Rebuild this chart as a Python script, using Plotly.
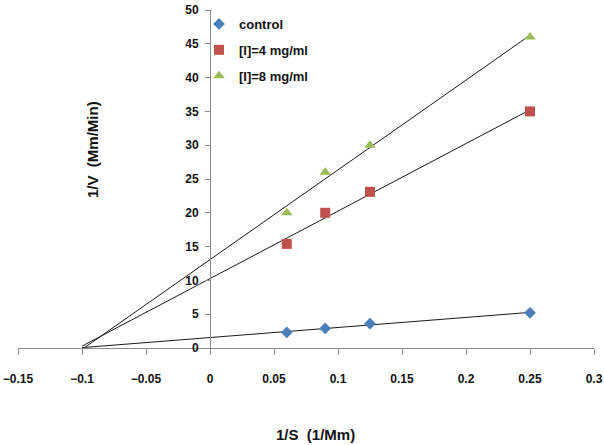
import numpy as np
import plotly.graph_objects as go

# Data
inv_s = [0.06, 0.09, 0.125, 0.25]
series_names = ["control", "[I]=4 mg/ml", "[I]=8 mg/ml"]
control = [2.3, 2.9, 3.6, 5.2]
inhib4 = [15.4, 20.0, 23.1, 35.0]
inhib8 = [20.0, 26.0, 30.0, 46.0]
x_ticks = [-0.15, -0.1, -0.05, 0, 0.05, 0.1, 0.15, 0.2, 0.25, 0.3]
y_ticks = [0, 5, 10, 15, 20, 25, 30, 35, 40, 45, 50]
trend_x = [-0.1, 0.25]

colors = ["#4A7EBB", "#C0504D", "#9BBB59"]
symbols = ["diamond", "square", "triangle-up"]
sizes = [9, 10, 10]

fig = go.Figure()
all_series = [control, inhib4, inhib8]
# trendlines
for ys in all_series:
    m, b = np.polyfit(inv_s, ys, 1)
    tx = np.array(trend_x)
    fig.add_trace(go.Scatter(x=tx, y=m * tx + b, mode="lines",
                             line=dict(color="#1a1a1a", width=1),
                             showlegend=False, hoverinfo="skip"))
for i, ys in enumerate(all_series):
    fig.add_trace(go.Scatter(x=inv_s, y=ys, mode="markers", name=series_names[i],
                             legendgroup=f"g{i}",
                             marker=dict(color=colors[i], symbol=symbols[i], size=sizes[i])))

font_family = "Liberation Sans, Arial, sans-serif"
L, R, T, B = 18, 10, 10, 97
PW, PH = 604 - L - R, 445 - T - B
fig.update_layout(
    width=604, height=445,
    margin=dict(l=L, r=R, t=T, b=B, autoexpand=False),
    paper_bgcolor="white", plot_bgcolor="white",
    font=dict(family=font_family, size=12, color="#111"),
    showlegend=True,
    legend=dict(x=(199 - L) / PW, y=1.0 + 1 / PH, xanchor="left", yanchor="top",
                bgcolor="rgba(0,0,0,0)", tracegroupgap=6,
                font=dict(size=13, family=font_family, color="#111", weight="bold"),
                itemwidth=30),
    xaxis=dict(range=[-0.15, 0.3], tickvals=x_ticks, showgrid=False, zeroline=False,
               automargin=False,
               showline=True, linecolor="#8c8c8c", linewidth=1,
               ticks="outside", ticklen=6, tickcolor="#8c8c8c",
               ticklabelstandoff=14,
               tickfont=dict(size=12, family=font_family, color="#111", weight="bold")),
    yaxis=dict(range=[0, 50], tickvals=y_ticks, showgrid=False, zeroline=False,
               automargin=False,
               anchor="free", position=0.15 / 0.45,
               showline=True, linecolor="#8c8c8c", linewidth=1,
               ticks="outside", ticklen=5, tickcolor="#8c8c8c",
               ticklabelstandoff=4,
               tickfont=dict(size=12, family=font_family, color="#111", weight="bold")),
    annotations=[
        dict(text="1/S  (1/Mm)", x=(315 - L) / PW, y=-(435 - 348) / PH,
             xref="paper", yref="paper",
             xanchor="center", yanchor="middle", showarrow=False,
             font=dict(size=15, family=font_family, color="#111", weight="bold")),
        dict(text="1/V  (Mm/Min)", x=(92 - L) / PW, y=(348 - 150) / PH,
             xref="paper", yref="paper",
             xanchor="center", yanchor="middle", showarrow=False, textangle=-90,
             font=dict(size=15, family=font_family, color="#111", weight="bold")),
    ],
)
fig.write_html("out.html", config={"displayModeBar": False},
               post_script="document.body.style.margin='0';document.body.style.overflow='hidden';")
